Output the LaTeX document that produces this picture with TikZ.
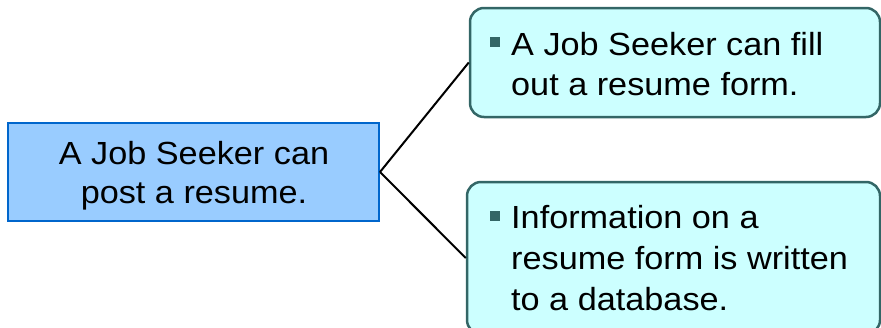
\documentclass[tikz,border=0pt]{standalone}
\usepackage{fontspec}
\setmainfont{Liberation Sans}[FakeStretch=1.07]
\definecolor{rootfill}{RGB}{153,204,255}
\definecolor{rootline}{RGB}{0,102,204}
\definecolor{leaffill}{RGB}{204,255,255}
\definecolor{leafline}{RGB}{51,102,102}
\tikzset{
  rootbox/.style={draw=rootline, fill=rootfill, line width=2pt, inner sep=0pt},
  leafbox/.style={draw=leafline, fill=leaffill, line width=2.5pt, rounded corners=14pt, inner sep=0pt},
  txt/.style={font=\fontsize{32}{40}\selectfont, inner sep=0pt, text=black},
  bulletmark/.style={fill=leafline, minimum size=10pt, inner sep=0pt},
  link/.style={draw=black, line width=2pt}
}
\begin{document}
\begin{tikzpicture}[x=1pt, y=-1pt]
  \useasboundingbox (0,0) rectangle (881,327);
  % root box
  \node[rootbox, minimum width=371pt, minimum height=98pt] (root) at (193.5,172) {};
  \node[txt, anchor=base] (r1) at (194,164) {A Job Seeker can};
  \node[txt, anchor=base] (r2) at (194,203) {post a resume.};
  % leaf boxes
  \node[leafbox, minimum width=410pt, minimum height=109pt] (fill) at (675,62.5) {};
  \node[leafbox, minimum width=413pt, minimum height=152pt] (store) at (673.5,258) {};
  % connectors
  \draw[link] (root.east) -- (fill.west);
  \draw[link] (root.east) -- (store.west);
  % leaf texts with bullets
  \node[bulletmark] (b1) at (495,42) {};
  \node[txt, anchor=base west] (f1) at (511,55) {A Job Seeker can fill};
  \node[txt, anchor=base west] (f2) at (511,95) {out a resume form.};
  \node[bulletmark] (b2) at (495,216) {};
  \node[txt, anchor=base west] (s1) at (511,228) {Information on a};
  \node[txt, anchor=base west] (s2) at (511,269) {resume form is written};
  \node[txt, anchor=base west] (s3) at (511,310) {to a database.};
\end{tikzpicture}
\end{document}
